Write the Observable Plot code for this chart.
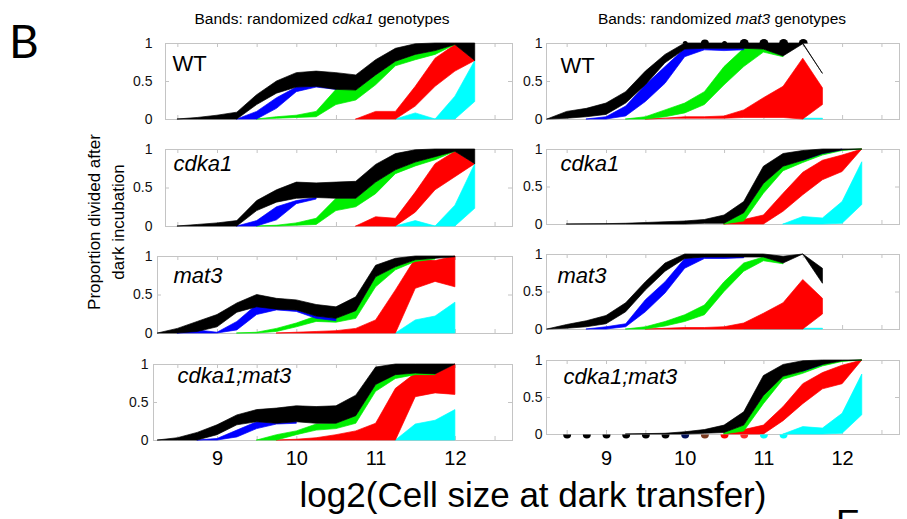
<!DOCTYPE html>
<html><head><meta charset="utf-8">
<script src="https://cdn.jsdelivr.net/npm/d3@7"></script>
<script src="https://cdn.jsdelivr.net/npm/@observablehq/plot@0.6"></script>
<style>
html,body{margin:0;padding:0;background:#fff;}
#fig{position:relative;width:907px;height:519px;overflow:hidden;background:#fff;font-family:"Liberation Sans",Arial,sans-serif;}
.pan{position:absolute;}
.pan svg{overflow:visible;display:block;}
</style></head><body><div id="fig"></div>
<script>
// ---------------- DATA ----------------
// each band: [log2 cell size, lower proportion, upper proportion]
const xTicks = [8.5, 9, 9.5, 10, 10.5, 11, 11.5, 12, 12.5];
const xLabelValues = [9, 10, 11, 12];
const xTickLabels = ["9", "10", "11", "12"];
const yTicks = [0, 0.5, 1];
const yTickLabels = ["0", "0.5", "1"];
const rowLabels = ["WT", "cdka1", "mat3", "cdka1;mat3"];
const colTitleItalic = ["cdka1", "mat3"];
const colors = {black: "#000000", blue: "#0000ff", green: "#00ee00", red: "#ff0000", cyan: "#00ffff"};

// Left column: bands from randomized cdka1 genotypes
const cWT_black = [[8.5,0,0],[8.75,0,0.02],[9,0,0.05],[9.25,0,0.09],[9.5,0.19,0.32],[9.75,0.34,0.5],[10,0.42,0.61],[10.25,0.43,0.63],[10.5,0.39,0.61],[10.75,0.38,0.58],[11,0.58,0.78],[11.25,0.76,0.93],[11.5,0.85,0.99],[11.75,0.9,1],[12,0.98,1],[12.25,0.77,1]];
const cWT_blue = [[9.25,0,0],[9.5,0,0.1],[9.75,0.14,0.28],[10,0.36,0.42],[10.25,0.42,0.44],[10.5,0.39,0.42]];
const cWT_green = [[9.5,0,0],[9.75,0.01,0.03],[10,0.02,0.05],[10.25,0.03,0.1],[10.5,0.19,0.39],[10.75,0.25,0.38],[11,0.45,0.58],[11.25,0.7,0.76],[11.5,0.78,0.85],[11.75,0.85,0.9],[12,0.98,0.99]];
const cWT_red = [[10.75,0,0],[11,0,0.1],[11.25,0,0.1],[11.5,0.17,0.43],[11.75,0.43,0.8],[12,0.63,0.98],[12.25,0.77,0.77]];
const cWT_cyan = [[11.25,0,0],[11.5,0,0.08],[11.75,0,0],[12,0,0.3],[12.25,0.23,0.77]];

const cCdka_black = [[8.5,0,0],[8.75,0,0.02],[9,0,0.04],[9.25,0,0.07],[9.5,0.2,0.33],[9.75,0.31,0.47],[10,0.36,0.57],[10.25,0.37,0.56],[10.5,0.36,0.57],[10.75,0.36,0.58],[11,0.57,0.8],[11.25,0.73,0.94],[11.5,0.83,0.99],[11.75,0.9,1],[12,0.97,1],[12.25,0.81,1]];
const cCdka_blue = [[9.25,0,0],[9.5,0,0.07],[9.75,0.08,0.25],[10,0.29,0.33],[10.25,0.35,0.37]];
const cCdka_green = [[9.5,0,0],[9.75,0,0.01],[10,0.01,0.04],[10.25,0.02,0.1],[10.5,0.2,0.36],[10.75,0.25,0.36],[11,0.42,0.57],[11.25,0.68,0.73],[11.5,0.78,0.83],[11.75,0.86,0.9],[12,0.97,0.99]];
const cCdka_red = [[10.75,0,0],[11,0,0.12],[11.25,0,0.1],[11.5,0.18,0.44],[11.75,0.47,0.81],[12,0.64,0.97],[12.25,0.81,0.81]];
const cCdka_cyan = [[11.25,0,0],[11.5,0,0.07],[11.75,0,0],[12,0,0.27],[12.25,0.23,0.81]];

const cMat_black = [[8.25,0,0],[8.5,0,0.06],[8.75,0.02,0.15],[9,0.08,0.24],[9.25,0.27,0.39],[9.5,0.34,0.5],[9.75,0.31,0.45],[10,0.3,0.43],[10.25,0.22,0.37],[10.5,0.19,0.34],[10.75,0.29,0.47],[11,0.73,0.88],[11.25,0.86,0.97],[11.5,0.95,1],[11.75,0.97,1],[12,0.99,1]];
const cMat_blue = [[8.5,0,0],[8.75,0,0.04],[9,0,0.01],[9.25,0.04,0.15],[9.5,0.24,0.37],[9.75,0.3,0.32],[10,0.28,0.3],[10.25,0.19,0.22],[10.5,0.16,0.19]];
const cMat_green = [[9.25,0,0],[9.5,0,0.01],[9.75,0.02,0.06],[10,0.08,0.13],[10.25,0.15,0.22],[10.5,0.14,0.19],[10.75,0.19,0.29],[11,0.6,0.73],[11.25,0.82,0.86],[11.5,0.93,0.95],[11.75,0.96,0.97]];
const cMat_red = [[9.75,0,0],[10,0,0.01],[10.25,0,0.02],[10.5,0,0.03],[10.75,0,0.06],[11,0,0.17],[11.25,0,0.56],[11.5,0.58,0.97],[11.75,0.67,0.94],[12,0.6,1]];
const cMat_cyan = [[11.25,0,0],[11.5,0,0.17],[11.75,0,0.22],[12,0,0.4]];

const cDbl_black = [[8.25,0,0],[8.5,0,0.03],[8.75,0,0.1],[9,0.07,0.2],[9.25,0.2,0.33],[9.5,0.24,0.4],[9.75,0.22,0.42],[10,0.24,0.45],[10.25,0.22,0.44],[10.5,0.22,0.45],[10.75,0.32,0.59],[11,0.73,0.96],[11.25,0.86,1],[11.5,0.88,1],[11.75,0.87,1],[12,1,1]];
const cDbl_blue = [[8.75,0,0],[9,0,0.02],[9.25,0.04,0.13],[9.5,0.15,0.24],[9.75,0.21,0.22],[10,0.22,0.24]];
const cDbl_green = [[9.5,0,0],[9.75,0,0.07],[10,0.07,0.12],[10.25,0.13,0.21],[10.5,0.15,0.22],[10.75,0.22,0.32],[11,0.64,0.73],[11.25,0.81,0.86],[11.5,0.86,0.88],[11.75,0.86,0.87]];
const cDbl_red = [[9.75,0,0],[10,0,0.01],[10.25,0,0.03],[10.5,0,0.07],[10.75,0,0.12],[11,0,0.22],[11.25,0,0.68],[11.5,0.57,0.88],[11.75,0.62,0.87],[12,0.6,1]];
const cDbl_cyan = [[11.25,0,0],[11.5,0,0.21],[11.75,0,0.26],[12,0,0.4]];

// Right column: bands from randomized mat3 genotypes
const mWT_black = [[8.25,0,0],[8.5,0.01,0.1],[8.75,0.03,0.14],[9,0.06,0.21],[9.25,0.21,0.36],[9.5,0.45,0.63],[9.75,0.74,0.85],[10,0.92,1],[10.25,0.93,1],[10.5,0.93,1],[10.75,0.93,1],[11,0.92,1],[11.25,0.83,1],[11.5,0.99,1],[11.75,0.6,0.6]];
const mWT_blue = [[8.75,0,0],[9,0,0.03],[9.25,0.04,0.17],[9.5,0.23,0.45],[9.75,0.47,0.69],[10,0.82,0.93],[10.25,0.91,0.93],[10.5,0.9,0.93],[10.75,0.91,0.93]];
const mWT_green = [[9.25,0,0],[9.5,0,0.03],[9.75,0.03,0.12],[10,0.08,0.21],[10.25,0.19,0.36],[10.5,0.45,0.69],[10.75,0.69,0.93],[11,0.88,0.92],[11.25,0.82,0.83]];
const mWT_red = [[9.5,0,0],[9.75,0.01,0.01],[10,0.01,0.03],[10.25,0.01,0.03],[10.5,0.01,0.04],[10.75,0.02,0.12],[11,0.02,0.28],[11.25,0.02,0.43],[11.5,0,0.8],[11.75,0.19,0.41]];
const mWT_cyan = [[11.5,0,0.01],[11.75,0,0.01]];
const mWT_topDotsX = [10, 10.25, 10.5, 10.75, 11, 11.25, 11.5];
const mWT_topDotsR = [2.5, 4, 2.5, 4.5, 4.5, 4.5, 4.5];

const mCdka_black = [[8.5,0,0],[9,0,0.005],[9.25,0,0.01],[9.5,0,0.02],[9.75,0,0.03],[10,0,0.04],[10.25,0.01,0.06],[10.5,0.01,0.12],[10.75,0.15,0.3],[11,0.54,0.77],[11.25,0.77,0.94],[11.5,0.85,0.98],[11.75,0.94,1],[12,0.99,1],[12.25,1,1]];
const mCdka_blue = [[11.5,0.85,0.86],[11.75,0.94,0.95],[12,0.99,1]];
const mCdka_green = [[10.5,0,0.01],[10.75,0.04,0.15],[11,0.41,0.54],[11.25,0.71,0.77],[11.5,0.82,0.85],[11.75,0.92,0.94],[12,0.98,0.99],[12.25,1,1]];
const mCdka_red = [[10.5,0,0],[10.75,0,0.06],[11,0,0.12],[11.25,0.17,0.41],[11.5,0.39,0.69],[11.75,0.59,0.85],[12,0.7,0.92],[12.25,1,1]];
const mCdka_cyan = [[11.25,0,0],[11.5,0,0.1],[11.75,0,0.08],[12,0.01,0.3],[12.25,0.26,0.83]];

const mMat_black = [[8.25,0,0],[8.5,0.01,0.06],[8.75,0.03,0.11],[9,0.07,0.18],[9.25,0.23,0.35],[9.5,0.52,0.63],[9.75,0.77,0.88],[10,0.94,1],[10.25,0.96,1],[10.5,0.96,1],[10.75,0.96,1],[11,0.96,1],[11.25,0.88,0.97],[11.5,1,1],[11.75,0.61,0.81]];
const mMat_blue = [[8.75,0,0],[9,0,0.03],[9.25,0.03,0.07],[9.5,0.23,0.39],[9.75,0.48,0.63],[10,0.81,0.94],[10.25,0.94,0.96],[10.5,0.94,0.96],[10.75,0.95,0.96]];
const mMat_green = [[9.25,0,0],[9.5,0,0.03],[9.75,0.04,0.1],[10,0.1,0.19],[10.25,0.19,0.32],[10.5,0.5,0.63],[10.75,0.77,0.88],[11,0.91,0.96],[11.25,0.87,0.88]];
const mMat_red = [[9.5,0,0],[9.75,0,0.01],[10,0,0.02],[10.25,0,0.02],[10.5,0,0.03],[10.75,0,0.08],[11,0,0.21],[11.25,0,0.35],[11.5,0,0.66],[11.75,0.2,0.41]];
const mMat_cyan = [[10.75,0,0.01],[11.75,0,0.01]];

const mDbl_black = [[9.25,0,0],[9.75,0,0.01],[10,0,0.03],[10.25,0.01,0.06],[10.5,0.02,0.12],[10.75,0.12,0.3],[11,0.52,0.79],[11.25,0.78,0.94],[11.5,0.85,0.99],[11.75,0.94,1],[12,0.99,1],[12.25,1,1]];
const mDbl_blue = [[11.5,0.85,0.86],[11.75,0.94,0.95]];
const mDbl_green = [[10.5,0,0.02],[10.75,0.04,0.12],[11,0.41,0.52],[11.25,0.74,0.78],[11.5,0.82,0.85],[11.75,0.92,0.94],[12,0.98,0.99],[12.25,1,1]];
const mDbl_red = [[10.5,0,0],[10.75,0,0.06],[11,0,0.12],[11.25,0.18,0.37],[11.5,0.41,0.68],[11.75,0.61,0.83],[12,0.68,0.93],[12.25,1,1]];
const mDbl_cyan = [[11.25,0,0],[11.5,0,0.1],[11.75,0,0.08],[12,0.01,0.28],[12.25,0.26,0.81]];
const mDbl_bottomDotsX = [8.5, 8.75, 9, 9.25, 9.5, 9.75, 10, 10.25, 10.5, 10.75, 11, 11.25];
const mDbl_bottomDotsC = ["#000000","#000000","#000000","#000000","#000000","#000000","#00105a","#7a3a20","#ff0000","#ff2a2a","#00ffff","#00ffff"];

// ---------------- LAYOUT ----------------
const FRAME = "#c4c4c4";
const FONT = "'Liberation Sans', Arial, Helvetica, sans-serif";
const colGeom = [
  {right: 512, x0: 9, px0: 217, k: 79.3,
   rows: [{left:165, top:43, bottom:119, lx:172, ly:70, tr:152},
          {left:165, top:149, bottom:226, lx:173, ly:170, tr:152},
          {left:157, top:256, bottom:333, lx:173, ly:282, tr:152},
          {left:153, top:364, bottom:440, lx:177, ly:382, tr:148}]},
  {right: 899, x0: 9, px0: 606, k: 78.7,
   rows: [{left:546, top:43, bottom:119, lx:560, ly:72, tr:542},
          {left:546, top:149, bottom:224, lx:560, ly:170, tr:542},
          {left:546, top:254, bottom:329, lx:557, ly:282, tr:542},
          {left:546, top:360, bottom:434, lx:563, ly:383, tr:542}]}
];
const bandSets = [
  [{black:cWT_black, blue:cWT_blue, green:cWT_green, red:cWT_red, cyan:cWT_cyan},
   {black:cCdka_black, blue:cCdka_blue, green:cCdka_green, red:cCdka_red, cyan:cCdka_cyan},
   {black:cMat_black, blue:cMat_blue, green:cMat_green, red:cMat_red, cyan:cMat_cyan},
   {black:cDbl_black, blue:cDbl_blue, green:cDbl_green, red:cDbl_red, cyan:cDbl_cyan}],
  [{black:mWT_black, blue:mWT_blue, green:mWT_green, red:mWT_red, cyan:mWT_cyan},
   {black:mCdka_black, blue:mCdka_blue, green:mCdka_green, red:mCdka_red, cyan:mCdka_cyan},
   {black:mMat_black, blue:mMat_blue, green:mMat_green, red:mMat_red, cyan:mMat_cyan},
   {black:mDbl_black, blue:mDbl_blue, green:mDbl_green, red:mDbl_red, cyan:mDbl_cyan}]
];

function halfDisc(top) {
  return {draw(ctx, size) {
    const r = Math.sqrt(size / Math.PI);
    if (top) { ctx.moveTo(-r, 0); ctx.arc(0, 0, r, Math.PI, 2 * Math.PI); }
    else { ctx.moveTo(r, 0); ctx.arc(0, 0, r, 0, Math.PI); }
    ctx.closePath();
  }};
}

const fig = document.getElementById("fig");

// annotation layer (titles, axis labels)
const ann = d3.select(fig).append("svg").attr("width", 907).attr("height", 519)
  .style("position", "absolute").style("left", "0px").style("top", "0px")
  .style("font-family", FONT);
ann.append("text").attr("x", 9).attr("y", 58).attr("font-family", "Lato, 'Open Sans', sans-serif")
  .attr("font-size", 46).text("B");
[[322, 0], [722, 1]].forEach(([cx, i]) => {
  const t = ann.append("text").attr("x", cx).attr("y", 24).attr("text-anchor", "middle").attr("font-size", 15.5);
  t.append("tspan").text("Bands: randomized ");
  t.append("tspan").attr("font-style", "italic").text(colTitleItalic[i]);
  t.append("tspan").text(" genotypes");
});
const yl = ann.append("g").attr("transform", "translate(100,222) rotate(-90)");
yl.append("text").attr("text-anchor", "middle").attr("font-size", 17).text("Proportion divided after");
yl.append("text").attr("text-anchor", "middle").attr("font-size", 17).attr("y", 24).text("dark incubation");
ann.append("text").attr("x", 533).attr("y", 507).attr("text-anchor", "middle").attr("font-size", 35)
  .text("log2(Cell size at dark transfer)");
ann.append("text").attr("x", 836).attr("y", 536).attr("font-size", 36).text("E");

// panels
colGeom.forEach((cg, c) => {
  cg.rows.forEach((g, r) => {
    const bands = bandSets[c][r];
    const bottomRow = r === 3;
    const mL = 50, mR = 8, mT = 14, mB = bottomRow ? 45 : 8;
    const fw = cg.right - g.left, fh = g.bottom - g.top;
    const domain = [cg.x0 - (cg.px0 - g.left) / cg.k, cg.x0 + (cg.right - cg.px0) / cg.k];
    const tickLenX = 4 / cg.k;
    const marks = [
      Plot.frame({stroke: FRAME}),
      Plot.ruleX(xTicks, {x: d => d, y1: 1, y2: 1 - 4 / fh, stroke: FRAME}),
      Plot.ruleX(xTicks, {x: d => d, y1: 0, y2: 4 / fh, stroke: FRAME}),
      Plot.ruleY(yTicks, {y: d => d, x1: domain[0], x2: domain[0] + tickLenX, stroke: FRAME}),
      Plot.ruleY(yTicks, {y: d => d, x1: domain[1], x2: domain[1] - tickLenX, stroke: FRAME})
    ];
    if (c === 0 && r === 0) {}
    ["cyan", "red", "green", "blue", "black"].forEach(name => {
      const arr = bands[name];
      if (!arr || !arr.length) return;
      marks.push(Plot.areaY(arr, {x: d => d[0], y1: d => d[1], y2: d => d[2],
        fill: colors[name], stroke: colors[name], strokeWidth: 0.7}));
    });
    if (c === 1 && r === 0) {
      marks.push(Plot.dot(mWT_topDotsX, {x: d => d, y: 1, r: (d, i) => mWT_topDotsR[i], fill: "black", symbol: halfDisc(true)}));
    }
    if (c === 1 && r === 3) {
      marks.push(Plot.dot(mDbl_bottomDotsX, {x: d => d, y: 0, r: 4, fill: (d, i) => mDbl_bottomDotsC[i], symbol: halfDisc(false)}));
    }
    marks.push(Plot.text(yTicks, {y: d => d, frameAnchor: "left", textAnchor: "end", lineAnchor: "middle",
      dx: g.tr - g.left, text: (d, i) => yTickLabels[i], fontSize: 14, fill: "#111"}));
    marks.push(Plot.text([rowLabels[r]], {frameAnchor: "top-left", textAnchor: "start", lineAnchor: "bottom",
      dx: g.lx - g.left, dy: g.ly - g.top, text: d => d, fontSize: 22, fontStyle: r === 0 ? "normal" : "italic", fill: "#000"}));
    if (bottomRow) {
      marks.push(Plot.text(xLabelValues, {x: d => d, frameAnchor: "bottom", lineAnchor: "middle",
        dy: 458 - g.bottom, text: (d, i) => xTickLabels[i], fontSize: 20, fill: "#000"}));
    }
    const chart = Plot.plot({
      width: fw + mL + mR, height: fh + mT + mB,
      marginLeft: mL, marginRight: mR, marginTop: mT, marginBottom: mB,
      x: {domain, axis: null},
      y: {domain: [0, 1], axis: null},
      r: {type: "identity"},
      color: {type: "identity"},
      style: {fontFamily: FONT, background: "transparent", overflow: "visible"},
      marks
    });
    const div = document.createElement("div");
    div.className = "pan";
    div.style.left = (g.left - mL) + "px";
    div.style.top = (g.top - mT) + "px";
    div.appendChild(chart);
    fig.appendChild(div);
  });
});
</script></body></html>
